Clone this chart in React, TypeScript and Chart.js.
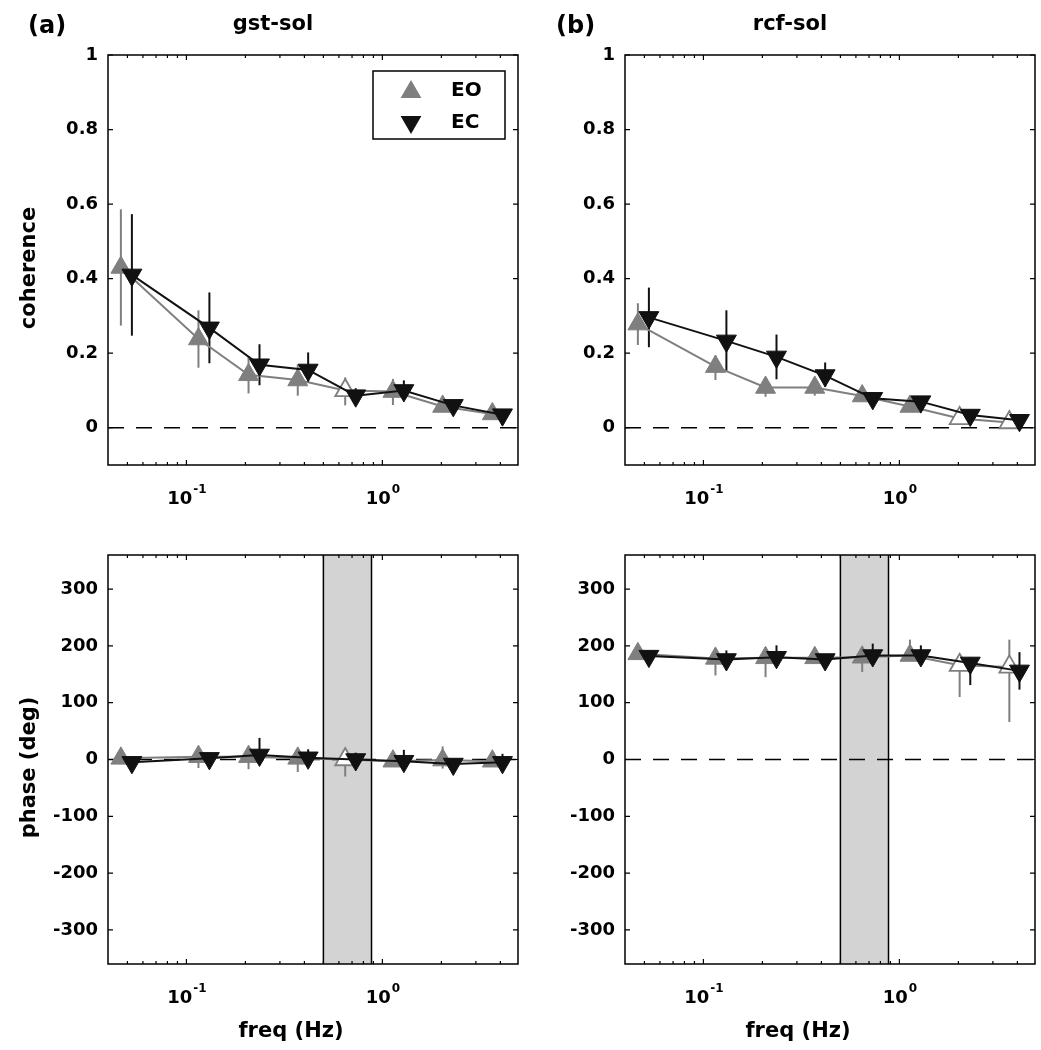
import React, { useEffect, useRef } from 'react';
import { Chart, registerables } from 'chart.js';

Chart.register(...registerables);

const W = 1041;
const H = 1050;
const FONT = '"DejaVu Sans", "Liberation Sans", sans-serif';
const GRAY = '#7f7f7f';
const BLACK = '#111111';

// ---------- shared axis data ----------
const freqEO = [0.0463, 0.1152, 0.2075, 0.37, 0.646, 1.132, 2.03, 3.64];
const freqEC = [0.0527, 0.131, 0.236, 0.418, 0.731, 1.287, 2.3, 4.1];
const xMin = 0.0398;
const xMax = 4.92;
const xMajorTicks = [0.1, 1];
const xMajorExponents = ['-1', '0'];
const xMinorTicks = [0.05, 0.06, 0.07, 0.08, 0.09, 0.2, 0.3, 0.4, 0.5, 0.6, 0.7, 0.8, 0.9, 2, 3, 4];
const cohTicks = [0, 0.2, 0.4, 0.6, 0.8, 1];
const phaseTicks = [-300, -200, -100, 0, 100, 200, 300];
const bandRange = [0.5, 0.88];

// ---------- (a) gst-sol coherence ----------
const gstCohEO = [0.43, 0.238, 0.142, 0.128, 0.1, 0.097, 0.057, 0.037];
const gstCohEOErrLo = [0.156, 0.077, 0.05, 0.042, 0.04, 0.036, 0.012, 0.008];
const gstCohEOErrHi = [0.156, 0.077, 0.05, 0.042, 0.035, 0.034, 0.012, 0.008];
const gstCohEC = [0.41, 0.268, 0.169, 0.155, 0.086, 0.1, 0.06, 0.035];
const gstCohECErrLo = [0.163, 0.095, 0.055, 0.035, 0.02, 0.025, 0.012, 0.008];
const gstCohECErrHi = [0.163, 0.095, 0.055, 0.047, 0.02, 0.027, 0.012, 0.008];
const gstCohEOHollow = [false, false, false, false, true, false, false, false];

// ---------- (b) rcf-sol coherence ----------
const rcfCohEO = [0.278, 0.164, 0.108, 0.108, 0.085, 0.057, 0.025, 0.014];
const rcfCohEOErrLo = [0.056, 0.036, 0.025, 0.022, 0.015, 0.012, 0.01, 0.008];
const rcfCohEOErrHi = [0.056, 0.03, 0.02, 0.02, 0.015, 0.012, 0.01, 0.008];
const rcfCohEC = [0.296, 0.233, 0.19, 0.14, 0.079, 0.07, 0.034, 0.02];
const rcfCohECErrLo = [0.08, 0.082, 0.06, 0.03, 0.015, 0.012, 0.01, 0.008];
const rcfCohECErrHi = [0.08, 0.082, 0.06, 0.035, 0.015, 0.012, 0.01, 0.008];
const rcfCohEOHollow = [false, false, false, false, false, false, true, true];

// ---------- (a) gst-sol phase ----------
const gstPhEO = [2, 5, 5, 2, 0, -3, -1, -3];
const gstPhEOErrLo = [8, 20, 22, 24, 30, 10, 15, 8];
const gstPhEOErrHi = [8, 12, 12, 12, 15, 10, 24, 8];
const gstPhEC = [-5, 2, 8, 3, 0, -3, -8, -5];
const gstPhECErrLo = [6, 10, 15, 12, 10, 10, 8, 10];
const gstPhECErrHi = [6, 10, 30, 15, 12, 20, 8, 15];
const gstPhEOHollow = [false, false, false, false, true, false, false, false];

// ---------- (b) rcf-sol phase ----------
const rcfPhEO = [186, 178, 179, 179, 180, 183, 166, 163];
const rcfPhEOErrLo = [6, 30, 34, 6, 26, 8, 56, 97];
const rcfPhEOErrHi = [6, 15, 15, 6, 15, 28, 15, 48];
const rcfPhEC = [182, 176, 180, 176, 183, 183, 170, 156];
const rcfPhECErrLo = [5, 10, 15, 10, 10, 12, 39, 33];
const rcfPhECErrHi = [5, 16, 21, 8, 21, 18, 10, 33];
const rcfPhEOHollow = [false, false, false, false, false, false, true, true];

type Series = { y: number[]; lo: number[]; hi: number[] };

type PanelSpec = {
  left: number;
  right: number;
  top: number;
  bottom: number;
  yMin: number;
  yMax: number;
  yTicks: number[];
  eo: Series;
  ec: Series;
  eoHollow: boolean[];
  title: string;
  label: string;
  labelX: number;
  yTitle?: string;
  xTitle?: string;
  xTitleDx?: number;
  legend?: boolean;
  band?: number[];
};

const X_AXIS_H = 40;
const Y_AXIS_W = 108;

const panels: PanelSpec[] = [
  {
    left: 108, right: 518, top: 55, bottom: 465,
    yMin: -0.1, yMax: 1, yTicks: cohTicks,
    eo: { y: gstCohEO, lo: gstCohEOErrLo, hi: gstCohEOErrHi },
    ec: { y: gstCohEC, lo: gstCohECErrLo, hi: gstCohECErrHi },
    eoHollow: gstCohEOHollow,
    title: 'gst-sol', label: '(a)', labelX: 28, yTitle: 'coherence', legend: true,
  },
  {
    left: 625, right: 1035, top: 55, bottom: 465,
    yMin: -0.1, yMax: 1, yTicks: cohTicks,
    eo: { y: rcfCohEO, lo: rcfCohEOErrLo, hi: rcfCohEOErrHi },
    ec: { y: rcfCohEC, lo: rcfCohECErrLo, hi: rcfCohECErrHi },
    eoHollow: rcfCohEOHollow,
    title: 'rcf-sol', label: '(b)', labelX: 556,
  },
  {
    left: 108, right: 518, top: 555, bottom: 964,
    yMin: -360, yMax: 360, yTicks: phaseTicks,
    eo: { y: gstPhEO, lo: gstPhEOErrLo, hi: gstPhEOErrHi },
    ec: { y: gstPhEC, lo: gstPhECErrLo, hi: gstPhECErrHi },
    eoHollow: gstPhEOHollow,
    title: '', label: '', labelX: 0, yTitle: 'phase (deg)', xTitle: 'freq (Hz)', xTitleDx: -22,
    band: bandRange,
  },
  {
    left: 625, right: 1035, top: 555, bottom: 964,
    yMin: -360, yMax: 360, yTicks: phaseTicks,
    eo: { y: rcfPhEO, lo: rcfPhEOErrLo, hi: rcfPhEOErrHi },
    ec: { y: rcfPhEC, lo: rcfPhECErrLo, hi: rcfPhECErrHi },
    eoHollow: rcfPhEOHollow,
    title: '', label: '', labelX: 0, xTitle: 'freq (Hz)', xTitleDx: -32,
    band: bandRange,
  },
];

function trianglePath(ctx: CanvasRenderingContext2D, x: number, y: number, r: number, down: boolean) {
  const s = down ? -1 : 1;
  ctx.beginPath();
  ctx.moveTo(x, y - s * r);
  ctx.lineTo(x + r * Math.sin((2 * Math.PI) / 3), y + s * r * 0.5);
  ctx.lineTo(x - r * Math.sin((2 * Math.PI) / 3), y + s * r * 0.5);
  ctx.closePath();
}

const decorPlugin = {
  id: 'panelDecor',
  beforeDatasetsDraw(chart: any, _args: any, opts: any) {
    const ctx: CanvasRenderingContext2D = chart.ctx;
    const ca = chart.chartArea;
    const xs = chart.scales.x;
    const ys = chart.scales.y;
    ctx.save();
    if (opts.band) {
      const x0 = xs.getPixelForValue(opts.band[0]);
      const x1 = xs.getPixelForValue(opts.band[1]);
      ctx.fillStyle = '#d3d3d3';
      ctx.fillRect(x0, ca.top, x1 - x0, ca.bottom - ca.top);
      ctx.strokeStyle = '#000';
      ctx.lineWidth = 1.5;
      ctx.beginPath();
      ctx.moveTo(x0, ca.top);
      ctx.lineTo(x0, ca.bottom);
      ctx.moveTo(x1, ca.top);
      ctx.lineTo(x1, ca.bottom);
      ctx.stroke();
    }
    const y0 = ys.getPixelForValue(0);
    ctx.strokeStyle = '#000';
    ctx.lineWidth = 1.5;
    ctx.setLineDash([16, 12]);
    ctx.beginPath();
    ctx.moveTo(ca.left, y0);
    ctx.lineTo(ca.right, y0);
    ctx.stroke();
    ctx.setLineDash([]);
    // error bars (drawn beneath markers)
    const order = [1, 0];
    order.forEach((i) => {
      const ds: any = chart.data.datasets[i];
      const meta = chart.getDatasetMeta(i);
      ctx.strokeStyle = ds.borderColor;
      ctx.lineWidth = 2;
      ds.data.forEach((pt: any, j: number) => {
        const el: any = meta.data[j];
        const yl = ys.getPixelForValue(pt.y - ds.errLo[j]);
        const yh = ys.getPixelForValue(pt.y + ds.errHi[j]);
        ctx.beginPath();
        ctx.moveTo(el.x, yl);
        ctx.lineTo(el.x, yh);
        ctx.stroke();
      });
    });
    ctx.restore();
  },
  afterDatasetsDraw(chart: any, _args: any, opts: any) {
    const ctx: CanvasRenderingContext2D = chart.ctx;
    const ca = chart.chartArea;
    const xs = chart.scales.x;
    const ys = chart.scales.y;
    ctx.save();
    ctx.strokeStyle = '#000';
    ctx.lineWidth = 1.5;
    ctx.strokeRect(ca.left, ca.top, ca.right - ca.left, ca.bottom - ca.top);
    ctx.lineWidth = 1.2;
    ctx.beginPath();
    opts.yTicks.forEach((v: number) => {
      const py = ys.getPixelForValue(v);
      ctx.moveTo(ca.left, py);
      ctx.lineTo(ca.left + 5, py);
      ctx.moveTo(ca.right, py);
      ctx.lineTo(ca.right - 5, py);
    });
    xMajorTicks.forEach((v) => {
      const px = xs.getPixelForValue(v);
      ctx.moveTo(px, ca.bottom);
      ctx.lineTo(px, ca.bottom - 5);
      ctx.moveTo(px, ca.top);
      ctx.lineTo(px, ca.top + 5);
    });
    xMinorTicks.forEach((v) => {
      const px = xs.getPixelForValue(v);
      ctx.moveTo(px, ca.bottom);
      ctx.lineTo(px, ca.bottom - 3);
      ctx.moveTo(px, ca.top);
      ctx.lineTo(px, ca.top + 3);
    });
    ctx.stroke();

    // legend
    if (opts.legend) {
      const bx = ca.right - 145;
      const by = ca.top + 16;
      const bw = 132;
      const bh = 68;
      ctx.fillStyle = '#fff';
      ctx.fillRect(bx, by, bw, bh);
      ctx.lineWidth = 1.5;
      ctx.strokeStyle = '#000';
      ctx.strokeRect(bx, by, bw, bh);
      const mx = bx + 38;
      const r1 = by + 19;
      const r2 = by + 52;
      trianglePath(ctx, mx, r1 + 2, 12, false);
      ctx.fillStyle = GRAY;
      ctx.fill();
      trianglePath(ctx, mx, r2 - 1, 12, true);
      ctx.fillStyle = BLACK;
      ctx.fill();
      ctx.fillStyle = '#000';
      ctx.font = `bold 20px ${FONT}`;
      ctx.textAlign = 'left';
      ctx.textBaseline = 'middle';
      ctx.fillText('EO', bx + 78, r1 + 1);
      ctx.fillText('EC', bx + 78, r2);
    }
    ctx.restore();
  },
  afterDraw(chart: any, _args: any, opts: any) {
    const ctx: CanvasRenderingContext2D = chart.ctx;
    const ca = chart.chartArea;
    const xs = chart.scales.x;
    ctx.save();
    ctx.fillStyle = '#000';
    // x tick labels with superscripts
    const base = ca.bottom + 39;
    xMajorTicks.forEach((v, i) => {
      const px = xs.getPixelForValue(v);
      ctx.font = `bold 18px ${FONT}`;
      const w1 = ctx.measureText('10').width;
      ctx.font = `bold 12px ${FONT}`;
      const w2 = ctx.measureText(xMajorExponents[i]).width;
      const start = px - (w1 + w2) / 2;
      ctx.textAlign = 'left';
      ctx.textBaseline = 'alphabetic';
      ctx.font = `bold 18px ${FONT}`;
      ctx.fillText('10', start, base);
      ctx.font = `bold 12px ${FONT}`;
      ctx.fillText(xMajorExponents[i], start + w1 + 1, base - 11);
    });
    if (opts.title) {
      ctx.font = `bold 21px ${FONT}`;
      ctx.textAlign = 'center';
      ctx.textBaseline = 'alphabetic';
      ctx.fillText(opts.title, (ca.left + ca.right) / 2 - 40, 30);
    }
    if (opts.label) {
      ctx.font = `bold 24px ${FONT}`;
      ctx.textAlign = 'left';
      ctx.textBaseline = 'alphabetic';
      ctx.fillText(opts.label, opts.labelX, 33);
    }
    if (opts.yTitle) {
      ctx.save();
      ctx.translate(30, (ca.top + ca.bottom) / 2 + 8);
      ctx.rotate(-Math.PI / 2);
      ctx.font = `bold 21px ${FONT}`;
      ctx.textAlign = 'center';
      ctx.textBaseline = 'middle';
      ctx.fillText(opts.yTitle, 0, 0);
      ctx.restore();
    }
    if (opts.xTitle) {
      ctx.font = `bold 21px ${FONT}`;
      ctx.textAlign = 'center';
      ctx.textBaseline = 'alphabetic';
      ctx.fillText(opts.xTitle, (ca.left + ca.right) / 2 + (opts.xTitleDx || 0), 1037);
    }
    ctx.restore();
  },
};

function buildConfig(p: PanelSpec): any {
  const eoData = freqEO.map((x, i) => ({ x, y: p.eo.y[i] }));
  const ecData = freqEC.map((x, i) => ({ x, y: p.ec.y[i] }));
  return {
    type: 'line',
    data: {
      datasets: [
        {
          label: 'EC',
          data: ecData,
          errLo: p.ec.lo,
          errHi: p.ec.hi,
          borderColor: BLACK,
          backgroundColor: BLACK,
          borderWidth: 2,
          pointStyle: 'triangle',
          pointRotation: 180,
          pointRadius: 11.5,
          pointBorderWidth: 1,
          pointBackgroundColor: BLACK,
          pointBorderColor: BLACK,
          tension: 0,
          fill: false,
          order: 0,
          clip: false,
        },
        {
          label: 'EO',
          data: eoData,
          errLo: p.eo.lo,
          errHi: p.eo.hi,
          borderColor: GRAY,
          backgroundColor: GRAY,
          borderWidth: 2,
          pointStyle: 'triangle',
          pointRotation: 0,
          pointRadius: 11.5,
          pointBorderWidth: p.eoHollow.map((h) => (h ? 1.8 : 1)),
          pointBackgroundColor: p.eoHollow.map((h) => (h ? '#ffffff' : GRAY)),
          pointBorderColor: GRAY,
          tension: 0,
          fill: false,
          order: 1,
          clip: false,
        },
      ],
    },
    options: {
      animation: false,
      responsive: false,
      devicePixelRatio: 1,
      events: [],
      layout: {
        autoPadding: false,
        padding: {
          left: p.left - Y_AXIS_W,
          right: W - p.right,
          top: p.top,
          bottom: H - p.bottom - X_AXIS_H,
        },
      },
      plugins: {
        legend: { display: false },
        tooltip: { enabled: false },
        title: { display: false },
        panelDecor: {
          band: p.band,
          yTicks: p.yTicks,
          legend: p.legend,
          title: p.title,
          label: p.label,
          labelX: p.labelX,
          yTitle: p.yTitle,
          xTitle: p.xTitle,
          xTitleDx: p.xTitleDx,
        },
      },
      scales: {
        x: {
          type: 'logarithmic',
          min: xMin,
          max: xMax,
          grid: { display: false },
          border: { display: false },
          ticks: { display: false },
          afterBuildTicks: (scale: any) => {
            scale.ticks = xMajorTicks.map((v) => ({ value: v }));
          },
          afterFit: (scale: any) => {
            scale.height = X_AXIS_H;
          },
        },
        y: {
          type: 'linear',
          min: p.yMin,
          max: p.yMax,
          grid: { display: false, drawTicks: false },
          border: { display: false },
          ticks: {
            padding: 10,
            color: '#000',
            font: { family: FONT, size: 18, weight: 'bold' },
            callback: (v: number) => `${v}`,
          },
          afterBuildTicks: (scale: any) => {
            scale.ticks = p.yTicks.map((v) => ({ value: v }));
          },
          afterFit: (scale: any) => {
            scale.width = Y_AXIS_W;
          },
        },
      },
    },
    plugins: [decorPlugin],
  };
}

function Panel({ spec }: { spec: PanelSpec }) {
  const ref = useRef<HTMLCanvasElement>(null);
  useEffect(() => {
    if (!ref.current) return;
    const chart = new Chart(ref.current, buildConfig(spec));
    return () => chart.destroy();
  }, [spec]);
  return (
    <canvas
      ref={ref}
      width={W}
      height={H}
      style={{ position: 'absolute', left: 0, top: 0, width: W, height: H }}
    />
  );
}

export default function App() {
  useEffect(() => {
    document.body.style.margin = '0';
  }, []);
  return (
    <div style={{ position: 'absolute', left: 0, top: 0, width: W, height: H, background: '#fff' }}>
      {panels.map((p, i) => (
        <Panel key={i} spec={p} />
      ))}
    </div>
  );
}
